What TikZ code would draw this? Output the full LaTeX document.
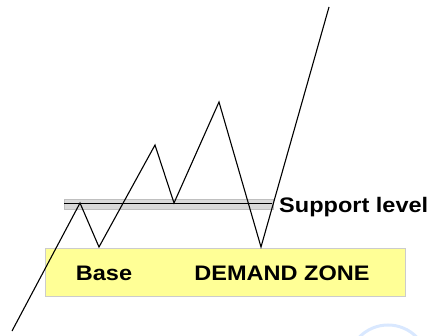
\documentclass[tikz,border=0pt]{standalone}
\usepackage{fontspec}
\setmainfont{Liberation Sans}
\begin{document}
\begin{tikzpicture}[x=1pt,y=-1pt,
  price/.style={line width=1.1pt,black},
  label/.style={font=\bfseries\fontsize{21}{24}\selectfont,xscale=1.12,transform shape,inner sep=0pt}]

\useasboundingbox (0,0) rectangle (433,336);

% Zone
\begin{scope}

\draw[draw=black!20,fill={rgb,255:red,255;green,255;blue,150},line width=1pt] (45,249) rectangle (405,296);

\node[label] (base) at (104,273) {Base};
\node[label] (zone) at (282,273) {DEMAND ZONE};

\end{scope}

% Support
\begin{scope}

\fill[black!15] (64,199) rectangle (273,209);
\draw[black!25,line width=0.5pt] (64,199) rectangle (273,209);
\draw[line width=1pt] (64,203.5) -- (272,203.5);

\node[label,anchor=west] (support) at (279,207) {Support level};

\end{scope}

% Prix
\begin{scope}

\coordinate (p0) at (12,331);
\coordinate (p1) at (80,203);
\coordinate (p2) at (99,247);
\coordinate (p3) at (155,145);
\coordinate (p4) at (174,203);
\coordinate (p5) at (219,102);
\coordinate (p6) at (261,247);
\coordinate (p7) at (329,7);

\draw[price] (p0) -- (p1) -- (p2) -- (p3) -- (p4) -- (p5) -- (p6) -- (p7);

\end{scope}

% Filigrane
\draw[blue!60!cyan!15,line width=3pt] (388,365) circle (40);

\end{tikzpicture}
\end{document}
